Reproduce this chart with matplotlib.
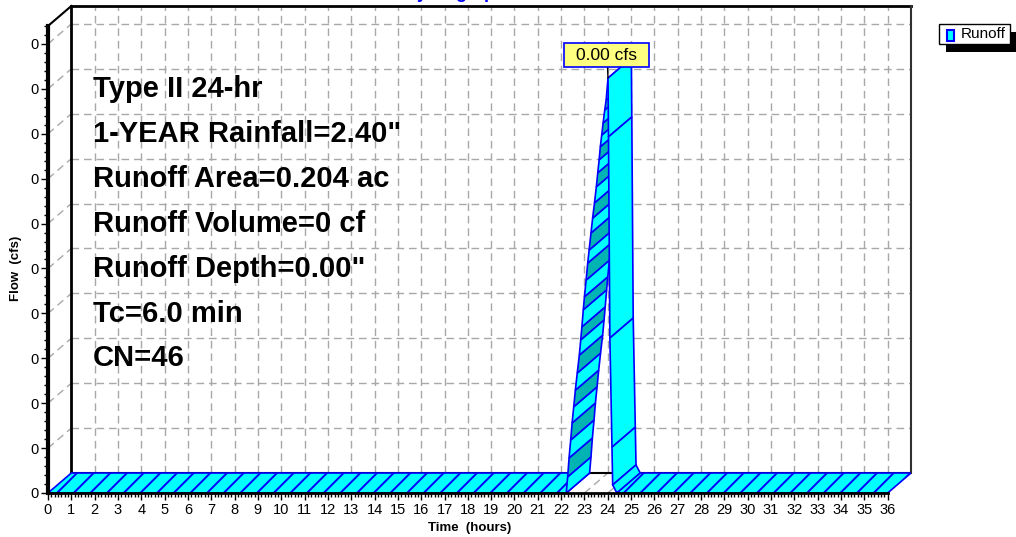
import numpy as np
import matplotlib
matplotlib.use('Agg')
import matplotlib.pyplot as plt
from matplotlib.patches import Polygon, Rectangle
from matplotlib.ticker import FixedLocator, FuncFormatter

plt.rcParams['font.family'] = ['Liberation Sans', 'DejaVu Sans']
plt.rcParams['hatch.linewidth'] = 1.4

# hydrograph: time (hours) / flow (cfs)
time_hr = [0.0, 22.22, 22.28, 22.34, 22.41, 22.47, 22.54, 22.61, 22.69, 22.78,
           22.84, 22.89, 22.95, 23.00, 23.07, 23.14, 23.20, 23.28, 23.35, 23.43,
           23.51, 23.57, 23.63, 23.68, 23.74, 23.80, 23.87, 23.93, 24.01,
           24.03, 24.09, 24.18, 24.21, 24.39, 36.0]
flow_cfs = [0.0, 0.0, 0.36e-4, 0.78e-4, 1.18e-4, 1.56e-4, 1.92e-4, 2.29e-4, 2.67e-4, 3.07e-4,
            3.41e-4, 3.70e-4, 4.08e-4, 4.37e-4, 4.74e-4, 5.12e-4, 5.41e-4, 5.79e-4, 6.12e-4, 6.46e-4,
            6.82e-4, 7.13e-4, 7.42e-4, 7.71e-4, 7.97e-4, 8.24e-4, 8.53e-4, 8.75e-4, 9.24e-4,
            7.93e-4, 3.45e-4, 1.02e-4, 0.18e-4, 0.0, 0.0]

peak_label = '0.00 cfs'
info_lines = ['Type II 24-hr', '1-YEAR Rainfall=2.40"', 'Runoff Area=0.204 ac',
              'Runoff Volume=0 cf', 'Runoff Depth=0.00"', 'Tc=6.0 min', 'CN=46']
x_ticks = list(range(0, 37))
y_ticks = [k * 1e-4 for k in range(0, 11)]

W, H = 1016, 537
TOP = 10.40e-4      # front top of the flow axis
DX = 1.0            # 3d depth, hours
DY = 0.445e-4       # 3d depth, cfs


def fx(px):
    return px / W


def fy(py):
    return 1 - py / H


fig = plt.figure(figsize=(W / 100, H / 100), dpi=100)
ax = fig.add_axes([fx(48), 44 / H, 863 / W, 487 / H])
ax.set_xlim(0, 36 + DX)
ax.set_ylim(0, TOP + DY)

grid_kw = dict(color='#a8a8a8', lw=1, ls=(0, (5.5, 3.5)), zorder=1)
# back wall grid
for t in x_ticks[1:-1]:
    ax.plot([t + DX, t + DX], [DY, TOP + DY], **grid_kw)
for q in y_ticks[1:]:
    ax.plot([DX, 36 + DX], [q + DY, q + DY], **grid_kw)
    ax.plot([0, DX], [q, q + DY], **grid_kw)      # left wall
for t in x_ticks[1:-1]:
    ax.plot([t, t + DX], [0, DY], **grid_kw)      # floor

# frame of the box
ax.plot([DX, 36 + DX], [DY, DY], color='black', lw=1.5, zorder=1.5)
ax.plot([DX, DX], [DY, TOP + DY], color='black', lw=2, zorder=1.5, clip_on=False)
ax.plot([DX, 36 + DX], [TOP + DY, TOP + DY], color='black', lw=2, zorder=1.5, clip_on=False)
ax.plot([36 + DX, 36 + DX], [DY, TOP + DY], color='#303030', lw=1.5, zorder=1.5, clip_on=False)
ax.plot([0, DX], [TOP, TOP + DY], color='black', lw=1.5, zorder=1.5, clip_on=False)

# ribbon of the hydrograph
n_rise = 0
for i in range(len(time_hr) - 1):
    t0, t1 = time_hr[i], time_hr[i + 1]
    q0, q1 = flow_cfs[i], flow_cfs[i + 1]
    quad = [(t0, q0), (t1, q1), (t1 + DX, q1 + DY), (t0 + DX, q0 + DY)]
    if q0 == q1:
        p = Polygon(quad, closed=True, fc='cyan', ec='blue', lw=1.2, hatch='//')
    elif q1 > q0:
        c = 'cyan' if n_rise % 2 == 0 else '#00b4b4'
        n_rise += 1
        p = Polygon(quad, closed=True, fc=c, ec='blue', lw=1.2)
    else:
        p = Polygon(quad, closed=True, fc='cyan', ec='blue', lw=1.2)
    p.set_zorder(3 + i * 0.01)
    ax.add_patch(p)

# axes
for s in ['top', 'right']:
    ax.spines[s].set_visible(False)
ax.spines['left'].set_bounds(0, TOP)
ax.spines['left'].set_linewidth(3)
ax.spines['left'].set_zorder(10)
ax.spines['bottom'].set_bounds(0, 36)
ax.spines['bottom'].set_linewidth(2)
ax.spines['bottom'].set_zorder(10)

ax.xaxis.set_major_locator(FixedLocator(x_ticks))
ax.xaxis.set_minor_locator(FixedLocator(np.arange(0, 36.001, 1 / 7)))
ax.yaxis.set_major_locator(FixedLocator(y_ticks))
ax.yaxis.set_minor_locator(FixedLocator(np.arange(0, 10.41, 0.2) * 1e-4))
ax.yaxis.set_major_formatter(FuncFormatter(lambda v, p: '{:.0f}'.format(v)))
ax.tick_params(axis='both', which='major', direction='out', length=5, width=1, labelsize=10.5, pad=2)
ax.tick_params(axis='both', which='minor', direction='out', length=3, width=1)

fig.text(fx(16), fy(268), 'Flow  (cfs)', rotation=90, ha='center', va='center',
         fontsize=9.5, fontweight='bold')
fig.text(fx(470), fy(528), 'Time  (hours)', ha='center', va='center',
         fontsize=9.5, fontweight='bold')

# title, cut by the top edge as in the original
fig.text(fx(456), fy(-2.5), 'Hydrograph', ha='center', va='baseline', color='blue',
         fontsize=13, fontweight='bold')

# info block
for k, line in enumerate(info_lines):
    fig.text(fx(93), fy(97 + k * 44.9), line, ha='left', va='baseline',
             fontsize=21, fontweight='bold')

# peak label: leader line from the peak up to a yellow box
ipk = int(np.argmax(flow_cfs))
ax.annotate('', xy=(time_hr[ipk], flow_cfs[ipk]), xytext=(fx(607.5), fy(67)),
            textcoords='figure fraction',
            arrowprops=dict(arrowstyle='-', color='black', lw=1, shrinkA=0, shrinkB=0),
            zorder=19)
fig.patches.append(Rectangle((fx(564), fy(67)), 85 / W, 24 / H, transform=fig.transFigure,
                             fc='#ffff80', ec='blue', lw=1.2, zorder=20))
fig.text(fx(606.5), fy(55), peak_label, ha='center', va='center', fontsize=12.5, zorder=21)

# legend with black shadow
fig.patches.append(Rectangle((fx(946), fy(52)), 70 / W, 20 / H, transform=fig.transFigure,
                             fc='black', ec='none'))
fig.patches.append(Rectangle((fx(939), fy(43.5)), 71 / W, 19.5 / H, transform=fig.transFigure,
                             fc='white', ec='black', lw=1))
fig.patches.append(Rectangle((fx(946.5), fy(41.5)), 7 / W, 11 / H, transform=fig.transFigure,
                             fc='cyan', ec='blue', lw=1.5))
fig.text(fx(961), fy(34.5), 'Runoff', ha='left', va='center', fontsize=11)

fig.savefig('out.png', dpi=100)
